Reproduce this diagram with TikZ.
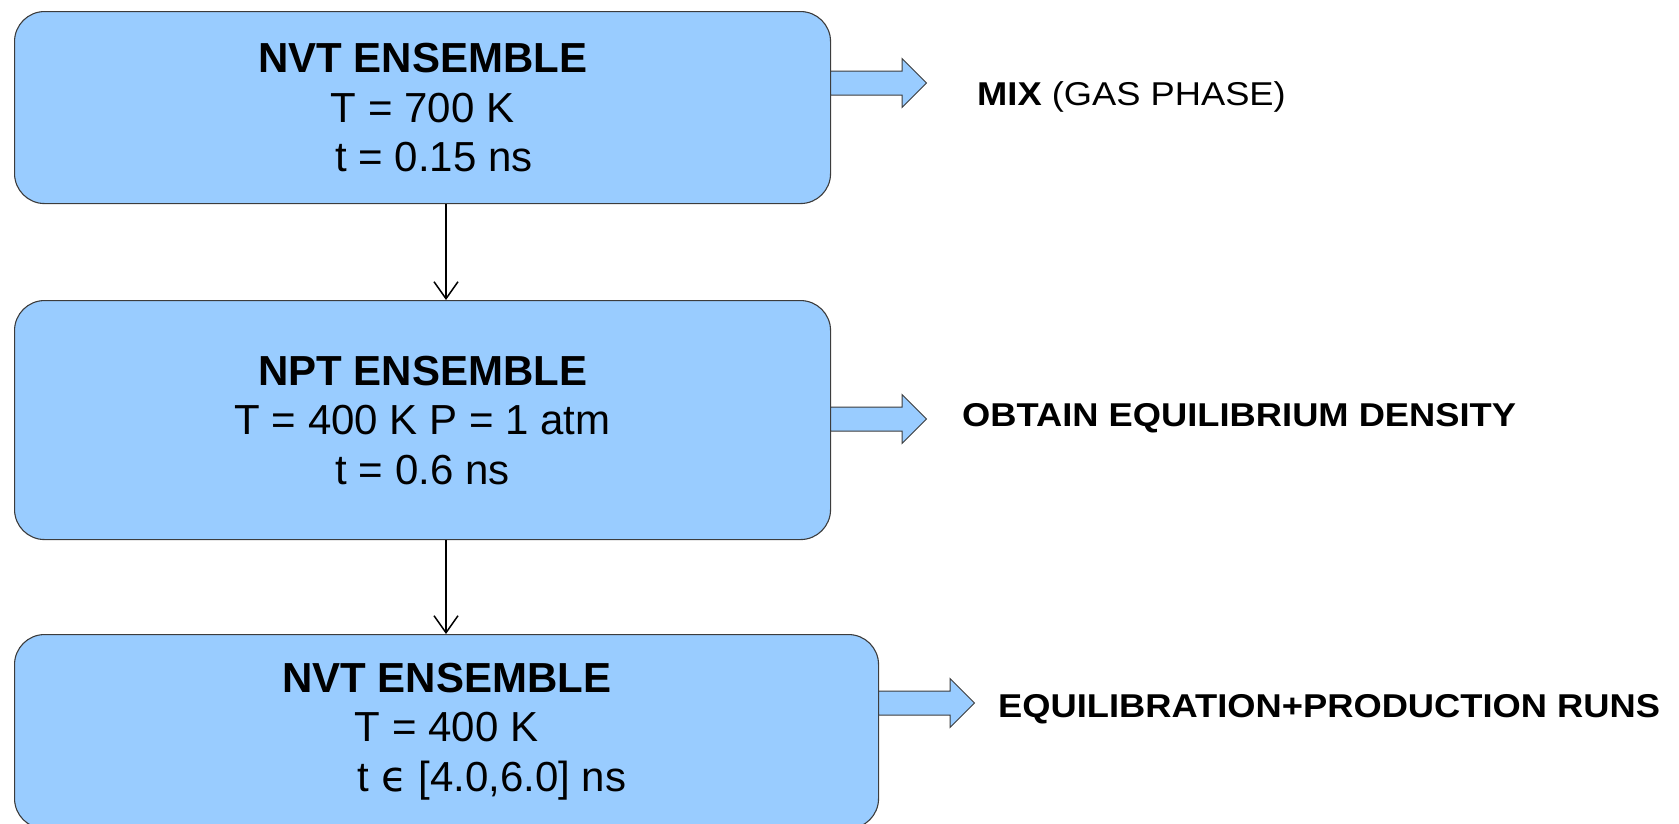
\documentclass[tikz,border=0pt]{standalone}
\usepackage{fontspec}
\usepackage{graphicx}
\setmainfont{Liberation Sans}
\newfontfamily\epsfont{DejaVu Sans}
\usepackage{tikz}
\usetikzlibrary{arrows.meta,shapes.arrows}
\definecolor{boxblue}{HTML}{99CCFF}
\definecolor{boxline}{HTML}{3C3C3C}

\begin{document}
\begin{tikzpicture}[x=1pt, y=-1pt,
  stage/.style   ={rectangle, rounded corners=30pt, draw=boxline, line width=1.1pt, fill=boxblue, align=center, inner sep=0pt, font=\fontsize{42}{49.5}\selectfont},
  flow/.style    ={-{Straight Barb[length=17pt, width=24pt]}, line width=1.5pt},
  bigarrow/.style={single arrow, draw=boxline, line width=1pt, fill=boxblue, minimum width=48pt, minimum height=96pt, single arrow head extend=12.5pt, single arrow tip angle=90, inner xsep=0pt, inner ysep=11.5pt},
  note/.style    ={anchor=base west, inner sep=0pt, font=\fontsize{33}{38}\selectfont},
]
\useasboundingbox (0,0) rectangle (1679,823);

% the three runs
\node[stage, minimum width=816pt, minimum height=192pt, anchor=north west] (nvta) at (14,11)
  {\textbf{NVT ENSEMBLE}\\T = 700 K\\\hspace*{23pt}t = 0.15 ns};
\node[stage, minimum width=816pt, minimum height=239pt, anchor=north west] (npt) at (14,300)
  {\textbf{NPT ENSEMBLE}\\T = 400 K P = 1 atm\\t = 0.6 ns};
\node[stage, minimum width=864pt, minimum height=194pt, anchor=north west] (nvtb) at (14,634)
  {\textbf{NVT ENSEMBLE}\\T = 400 K\\\hspace*{91pt}t {\epsfont ϵ} [4.0,6.0] ns};

% downward flow
\coordinate (xa) at (446,0);
\draw[flow] (nvta.south -| xa) -- (npt.north -| xa);
\draw[flow] (npt.south -| xa) -- (nvtb.north -| xa);

% purpose of each run
\node[bigarrow, anchor=tail] (arra) at (830,83) {};
\node[bigarrow, anchor=tail] (arrb) at (830,419) {};
\node[bigarrow, anchor=tail] (arrc) at (878,703) {};
\node[note] (mix)  at (977,105) {\scalebox{1.1}[1]{\textbf{MIX} (GAS PHASE)}};
\node[note] (dens) at (962,426) {\scalebox{1.1}[1]{\textbf{OBTAIN EQUILIBRIUM DENSITY}}};
\node[note] (prod) at (998,717) {\scalebox{1.1}[1]{\textbf{EQUILIBRATION+PRODUCTION RUNS}}};
\end{tikzpicture}
\end{document}
